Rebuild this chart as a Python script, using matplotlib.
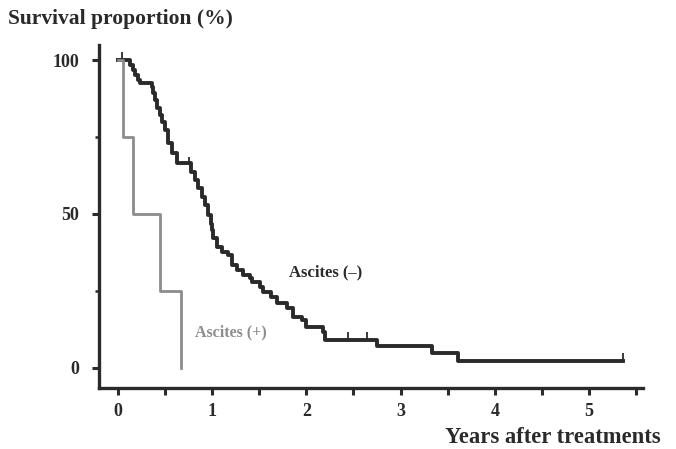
import numpy as np
import matplotlib
matplotlib.use('Agg')
import matplotlib.pyplot as plt

plt.rcParams['font.family'] = ['Liberation Serif', 'DejaVu Serif']
plt.rcParams['font.weight'] = 'bold'

# Ascites (-) : time of each drop (years) and survival after it (%)
neg_t = [0.0, 0.13, 0.16, 0.18, 0.21, 0.24, 0.36, 0.37, 0.39, 0.42, 0.45, 0.47,
         0.50, 0.53, 0.58, 0.63, 0.78, 0.82, 0.85, 0.89, 0.92, 0.96, 0.99, 1.00,
         1.01, 1.05, 1.10, 1.17, 1.21, 1.26, 1.33, 1.40, 1.42, 1.51, 1.54, 1.63,
         1.69, 1.79, 1.86, 1.95, 2.00, 2.18, 2.20, 2.75, 3.33, 3.61, 5.36]
neg_s = [100, 98.4, 96.8, 95.1, 93.5, 92.5, 91.2, 89.3, 87.0, 84.4, 82.1, 79.9,
         77.3, 73.0, 69.8, 66.6, 63.6, 61.0, 58.4, 55.5, 52.9, 49.7, 46.8, 44.8,
         42.2, 39.3, 37.7, 36.7, 33.4, 31.8, 30.2, 29.2, 27.9, 26.3, 24.7, 23.1,
         21.1, 19.5, 16.6, 15.6, 13.3, 11.7, 9.1, 7.0, 5.0, 2.4, 2.4]
neg_cens_t = [0.04, 0.76, 2.44, 2.64, 5.36]
neg_cens_s = [100, 65.9, 9.1, 9.1, 2.4]

# Ascites (+)
pos_t = [0.0, 0.05, 0.16, 0.45, 0.67]
pos_s = [100, 75, 50, 25, 0]

dark = '#2a2a2a'
grey = '#8c8c8c'

fig = plt.figure(figsize=(6.76, 4.49), dpi=100)
ax = fig.add_axes([0.1464, 0.1359, 0.8046, 0.764])

ax.step(neg_t, neg_s, where='post', color=dark, lw=2.8)
ax.plot(neg_cens_t, neg_cens_s, ls='none', marker=2, ms=6, mew=1.3, color=dark)
ax.step(pos_t, pos_s, where='post', color=grey, lw=2.0)

ax.set_xlim(-0.2, 5.57)
ax.set_ylim(-6.5, 104.9)

ax.set_xticks(np.arange(0, 5.51, 0.5))
ax.set_xticklabels(['0', '', '1', '', '2', '', '3', '', '4', '', '5', ''])
ax.set_yticks([0, 50, 100])
ax.set_yticks([25, 75], minor=True)

for s in ['top', 'right']:
    ax.spines[s].set_visible(False)
for s in ['left', 'bottom']:
    ax.spines[s].set_linewidth(2.4)
    ax.spines[s].set_color(dark)

ax.tick_params(axis='both', which='major', length=5, width=2.2, color=dark,
               labelsize=13, labelcolor=dark)
ax.tick_params(axis='y', which='major', pad=9)
ax.tick_params(axis='x', which='major', pad=6)
ax.tick_params(axis='y', which='minor', length=3, width=1.8, color=dark)

fig.text(0.012, 0.958, 'Survival proportion (%)', fontsize=15.5, fontweight='bold',
         color=dark, va='center', ha='left')
fig.text(0.977, 0.025, 'Years after treatments', fontsize=16.3, fontweight='bold',
         color=dark, va='center', ha='right')

ax.text(2.2, 31, 'Ascites (\u2013)', fontsize=12, fontweight='bold', color=dark,
        va='center', ha='center')
ax.text(1.2, 11.4, 'Ascites (+)', fontsize=11.5, fontweight='bold', color=grey,
        va='center', ha='center')

fig.savefig('out.png', dpi=100)
